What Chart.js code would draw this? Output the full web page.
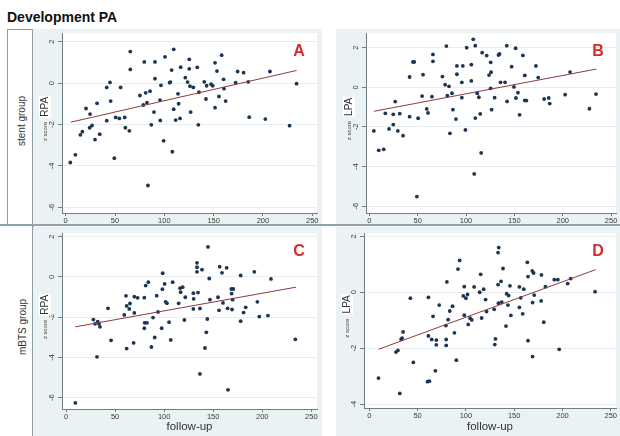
<!DOCTYPE html>
<html>
<head>
<meta charset="utf-8">
<script src="https://cdn.jsdelivr.net/npm/chart.js@4.4.1/dist/chart.umd.min.js"></script>
<style>
  html, body { margin: 0; padding: 0; background: #fff; }
  body { width: 620px; height: 436px; position: relative; overflow: hidden; font-family: "Liberation Sans", Arial, sans-serif; }
  #title { position: absolute; left: 7px; top: 9px; font-size: 14px; font-weight: bold; color: #111; }
  .rule { position: absolute; background: #8d9fa9; }
  .rowlab { position: absolute; font-size: 10px; color: #333; white-space: nowrap; transform: translate(-50%, -50%) rotate(-90deg); }
  canvas { position: absolute; background: #eaf2f3; }
</style>
</head>
<body>
<div id="title">Development PA</div>

<div class="rule" style="left:7px; top:29px; width:26px; height:1px;"></div>
<div class="rule" style="left:7px; top:29px; width:1px; height:196px;"></div>
<div class="rule" style="left:32px; top:29px; width:1.5px; height:407px;"></div>
<div class="rule" style="left:0; top:224px; width:620px; height:2px; background:#8ea3ae;"></div>

<div class="rowlab" style="left:21px; top:121px;">stent group</div>
<div class="rowlab" style="left:22px; top:327px;">mBTS group</div>

<script>
// follow-up (x) vs z score
const stentRPA = [[4.7,-3.84],[9.8,-3.47],[14.9,-2.5],[16.9,-2.35],[20.6,-1.23],[24.7,-1.5],[24.3,-2.16],[26.7,-2.05],[29.7,-2.73],[31.8,-0.98],[34.5,-2.47],[41.6,-0.21],[41.6,-1.82],[44.9,0.03],[45.6,-0.87],[49.3,-3.63],[50.7,-1.66],[54.4,-1.71],[55.7,-0.21],[59.8,-1.66],[60.5,-2.16],[64.5,-2.31],[65.5,1.52],[65.5,0.66],[75.3,-0.6],[78.7,-1.06],[79.7,1.02],[81.1,-0.47],[82.4,-0.95],[83.4,-4.95],[85.5,-0.39],[86.8,-2.02],[89.5,-1.4],[90.5,1.02],[90.5,0.21],[95.6,-0.82],[95.9,-1.81],[96.6,-0.11],[99.3,-2.79],[100.7,1.27],[105.4,0.02],[106.1,0.05],[107.4,0.63],[108.1,-3.32],[109.5,1.63],[109.5,-1.26],[111.5,-1.79],[113.9,-0.52],[114.5,-1.0],[115.9,-1.71],[116.6,0.77],[121.3,0.26],[123.6,0.05],[125.3,1.15],[125.3,0.69],[126.0,-0.15],[126.7,-1.4],[129.4,-0.21],[133.4,0.76],[134.5,-2.02],[135.1,-0.44],[140.5,0.06],[142.2,-0.77],[142.9,-0.13],[147.3,-0.05],[149.0,-0.13],[151.4,0.98],[151.4,-1.19],[153.4,0.58],[155.4,-0.65],[158.1,1.35],[160.1,0.18],[160.5,-0.27],[162.2,-0.87],[172.3,0.02],[174.3,0.56],[180.4,0.5],[185.1,0.06],[186.1,-1.65],[202.4,-1.74],[207.1,0.56],[227.0,-2.06],[234.1,-0.03]];
const stentLPA = [[4.7,-2.2],[9.8,-3.18],[14.9,-3.13],[16.6,-1.31],[20.4,-2.1],[24.8,-1.88],[24.8,-1.36],[26.8,-0.72],[29.5,-2.2],[31.5,-1.33],[34.9,-2.44],[41.7,0.52],[41.7,-1.48],[45.1,1.28],[46.5,1.28],[54.6,-0.44],[55.6,0.64],[49.2,-5.51],[50.5,-1.56],[59.4,-1.09],[60.7,-1.29],[64.8,-0.47],[65.8,1.66],[65.8,1.31],[75.6,0.54],[78.4,0.13],[79.7,2.08],[80.7,-0.42],[82.4,0.05],[83.4,-2.32],[85.5,-0.3],[86.5,-1.13],[89.6,-1.6],[90.6,1.08],[90.6,0.66],[95.7,-0.52],[95.7,0.25],[96.7,1.08],[99.4,-2.15],[100.7,2.0],[105.5,1.14],[105.5,0.32],[107.5,2.42],[108.5,-4.37],[109.6,2.1],[109.6,-1.55],[111.6,-0.3],[113.3,-0.5],[114.7,-1.34],[115.7,-3.31],[116.7,1.75],[121.4,1.6],[123.8,0.62],[125.5,1.26],[125.5,-0.05],[125.9,0.76],[126.5,-1.13],[129.6,-0.52],[133.6,1.63],[134.7,1.68],[135.7,0.25],[140.4,0.25],[142.1,2.1],[142.5,-0.71],[147.2,1.04],[149.6,0.02],[151.3,1.97],[151.6,-0.54],[153.7,-0.27],[155.4,-1.39],[158.8,1.61],[160.8,0.6],[160.8,-0.66],[162.5,-0.67],[172.3,1.08],[174.7,0.49],[180.8,-0.59],[185.5,-0.54],[186.6,-0.82],[202.5,-0.37],[207.6,0.77],[227.6,-1.08],[234.4,-0.34]];
const mbtsRPA = [[9.5,-6.26],[27.9,-2.12],[29.6,-2.33],[31.6,-3.97],[32.3,-2.22],[33.6,-2.33],[34.6,-2.48],[42.8,-1.56],[45.9,-3.15],[59.4,-1.89],[61.1,-0.94],[61.8,-1.44],[61.8,-3.56],[65.2,-1.32],[64.5,-1.59],[68.9,-3.28],[69.6,-0.98],[69.6,-1.79],[73.0,-1.04],[79.8,-1.03],[79.8,-2.55],[80.2,-2.28],[81.2,-0.43],[82.5,-2.28],[83.9,-0.26],[87.0,-3.48],[88.7,-2.02],[90.4,-3.01],[92.4,-0.93],[93.8,-1.74],[97.5,-2.55],[98.2,-0.61],[98.5,0.18],[100.5,-0.35],[101.6,-1.24],[102.9,-1.31],[105.0,-2.25],[106.7,-3.13],[108.7,-0.26],[114.8,-1.31],[116.2,-0.56],[116.8,-0.76],[118.9,-0.51],[120.6,-2.14],[121.6,-1.01],[129.8,-0.81],[130.1,-1.09],[129.8,-1.59],[133.5,0.7],[133.5,0.48],[133.5,0.25],[134.5,-0.78],[136.5,-1.57],[136.5,-4.82],[138.6,0.36],[141.6,-3.53],[143.0,-2.75],[144.0,-2.09],[144.7,1.49],[146.0,-0.08],[146.7,-1.13],[154.9,-1.01],[155.9,-1.66],[156.6,0.51],[159.0,0.2],[160.0,-1.29],[163.7,0.45],[164.7,-1.56],[165.1,-5.61],[168.5,-0.6],[168.8,-0.83],[169.2,-1.62],[169.8,-1.13],[170.5,-0.6],[178.0,0.07],[178.0,-2.2],[181.0,-1.77],[183.1,-1.51],[191.9,0.25],[195.0,-1.24],[197.0,-1.97],[205.8,-1.92],[208.9,-0.1],[233.7,-3.1]];
const mbtsLPA = [[9.5,-3.07],[27.6,-2.14],[29.6,-2.08],[31.6,-3.62],[33.0,-1.68],[34.0,-1.64],[35.0,-1.42],[42.5,-0.21],[45.6,-2.51],[61.2,-0.18],[61.2,-1.56],[60.2,-3.2],[62.2,-3.18],[64.6,-1.69],[66.0,-0.86],[68.4,-2.81],[69.4,-1.71],[69.4,-1.88],[72.4,-0.46],[79.3,-1.19],[79.6,-1.69],[79.6,-1.9],[80.3,0.37],[81.6,-0.98],[83.3,-0.67],[86.1,-0.5],[88.1,-1.45],[90.1,-2.43],[91.8,0.83],[93.5,1.14],[97.3,-0.13],[98.3,0.2],[98.3,-0.82],[100.0,-0.21],[101.7,-0.08],[102.4,-1.15],[104.4,-0.93],[106.1,-0.99],[108.5,0.19],[114.3,0.0],[115.3,0.64],[116.3,-0.92],[118.4,0.11],[120.4,-0.26],[121.4,-0.69],[129.3,-0.61],[129.9,-1.87],[130.6,-1.67],[133.3,0.27],[133.3,1.42],[134.0,1.6],[133.7,-0.39],[136.4,0.39],[137.1,-0.35],[138.4,0.85],[141.5,-1.21],[142.2,-0.05],[143.5,-0.46],[144.2,-0.12],[145.6,0.23],[146.6,-0.83],[155.4,0.19],[155.4,-0.54],[156.8,-0.2],[158.8,-0.77],[159.9,0.11],[163.6,1.07],[164.3,0.56],[164.3,-1.73],[168.7,0.76],[169.0,-0.37],[169.0,-2.3],[170.1,0.69],[170.7,-0.1],[178.2,0.62],[177.9,-0.31],[180.6,-1.07],[182.3,0.2],[191.5,0.45],[195.2,0.45],[196.6,-2.04],[205.4,0.31],[208.5,0.49],[233.7,0.02]];

// fitted lines (end points)
const stentRPAfit = [[5.1,-1.89],[234.1,0.61]];
const stentLPAfit = [[4.7,-1.21],[234.7,0.92]];
const mbtsRPAfit = [[9.5,-2.48],[234.4,-0.51]];
const mbtsLPAfit = [[9.5,-2.04],[234.4,0.81]];

const xTicks = [0, 50, 100, 150, 200, 250];
const yTicksWide = [-6, -4, -2, 0, 2];
const yTicksNarrow = [-4, -2, 0, 2];

Chart.defaults.font.family = '"Liberation Sans", Arial, sans-serif';

const stataDecor = {
  id: 'stataDecor',
  beforeDraw(chart) {
    const a = chart.chartArea;
    const ctx = chart.ctx;
    ctx.save();
    ctx.fillStyle = '#ffffff';
    ctx.fillRect(a.left, a.top, a.right - a.left, a.bottom - a.top);
    ctx.restore();
  },
  afterDraw(chart, args, opts) {
    const ctx = chart.ctx;
    const a = chart.chartArea;
    const y = chart.scales.y;
    ctx.save();
    // rotated y tick labels
    ctx.fillStyle = '#3a3a3a';
    ctx.font = '7.5px "Liberation Sans", Arial';
    ctx.textAlign = 'center';
    ctx.textBaseline = 'middle';
    y.ticks.forEach(t => {
      ctx.save();
      ctx.translate(a.left - 10, y.getPixelForValue(t.value));
      ctx.rotate(-Math.PI / 2);
      ctx.fillText(String(t.value), 0, 0);
      ctx.restore();
    });

    // y title: small "z score" + larger name
    const small = '6px "Liberation Sans", Arial';
    const big = '10px "Liberation Sans", Arial';
    ctx.font = small;
    const ws = ctx.measureText('z score').width;
    ctx.font = big;
    const wb = ctx.measureText(opts.yName).width;
    const gap = 5;
    const total = ws + gap + wb;
    const cy = (a.top + a.bottom) / 2 - 4;
    ctx.save();
    ctx.translate(a.left - 17, cy);
    ctx.rotate(-Math.PI / 2);
    ctx.textAlign = 'left';
    ctx.textBaseline = 'middle';
    let x0 = -total / 2;
    ctx.font = small;
    ctx.fillStyle = '#444';
    ctx.fillText('z score', x0, 0);
    ctx.fillStyle = '#ffffff';
    ctx.fillRect(x0 + ws + gap - 1, -6, wb + 2, 12);
    ctx.font = big;
    ctx.fillStyle = '#333';
    ctx.fillText(opts.yName, x0 + ws + gap, 0);
    ctx.restore();

    // panel letter
    ctx.fillStyle = '#d62a2c';
    ctx.font = 'bold 16px "Liberation Sans", Arial';
    ctx.textAlign = 'center';
    ctx.textBaseline = 'middle';
    ctx.fillText(opts.letter, a.right - 18, a.top + 19);
    ctx.restore();
  }
};

const panels = [
  { letter: 'A', yName: 'RPA', pts: stentRPA, fit: stentRPAfit, yTicks: yTicksWide,
    xMin: -3.75, xMax: 254.8, yMin: -6.28, yMax: 2.42,
    box: [33, 29, 289, 195], area: [62, 33, 317, 213], xTitle: false },
  { letter: 'B', yName: 'LPA', pts: stentLPA, fit: stentLPAfit, yTicks: yTicksWide,
    xMin: -3.4, xMax: 255.1, yMin: -6.34, yMax: 2.74,
    box: [336, 29, 284, 195], area: [366, 33, 620, 213], xTitle: false },
  { letter: 'C', yName: 'RPA', pts: mbtsRPA, fit: mbtsRPAfit, yTicks: yTicksWide,
    xMin: -4.1, xMax: 255.8, yMin: -6.56, yMax: 2.18,
    box: [33, 227, 289, 209], area: [62, 233, 317, 409], xTitle: true },
  { letter: 'D', yName: 'LPA', pts: mbtsLPA, fit: mbtsLPAfit, yTicks: yTicksNarrow,
    xMin: -5.5, xMax: 255.4, yMin: -4.14, yMax: 2.12,
    box: [336, 227, 284, 209], area: [364, 233, 620, 408], xTitle: true }
];

const axisColor = '#6f7c83';

panels.forEach(p => {
  const [bx, by, bw, bh] = p.box;
  const [al, at, ar, ab] = p.area;
  const canvas = document.createElement('canvas');
  canvas.width = bw;
  canvas.height = bh;
  canvas.style.left = bx + 'px';
  canvas.style.top = by + 'px';
  document.body.appendChild(canvas);

  const yWidth = al - bx;
  const xHeight = (by + bh) - ab;

  new Chart(canvas, {
    type: 'scatter',
    data: {
      datasets: [
        {
          type: 'line',
          data: p.fit.map(d => ({ x: d[0], y: d[1] })),
          borderColor: '#8e3a40',
          borderWidth: 1,
          pointRadius: 0,
          fill: false
        },
        {
          data: p.pts.map(d => ({ x: d[0], y: d[1] })),
          pointRadius: 1.9,
          pointBackgroundColor: '#1b3552',
          pointBorderWidth: 0
        }
      ]
    },
    options: {
      responsive: false,
      animation: false,
      devicePixelRatio: 1,
      layout: { padding: { top: at - by, right: (bx + bw) - ar, left: 0, bottom: 0 } },
      plugins: {
        legend: { display: false },
        tooltip: { enabled: false },
        stataDecor: { letter: p.letter, yName: p.yName }
      },
      scales: {
        x: {
          type: 'linear',
          min: p.xMin,
          max: p.xMax,
          afterBuildTicks: s => { s.ticks = xTicks.map(v => ({ value: v })); },
          afterFit: s => { s.height = xHeight; s.paddingLeft = 0; s.paddingRight = 0; },
          grid: { drawOnChartArea: false, drawTicks: true, tickLength: 3, tickColor: axisColor },
          border: { color: axisColor, width: 1 },
          ticks: { font: { size: 7.5 }, color: '#3a3a3a', padding: 0, maxRotation: 0, autoSkip: false, callback: v => String(v) },
          title: { display: p.xTitle, text: 'follow-up', font: { size: 11.5 }, color: '#333', padding: { top: 0, bottom: 2 } }
        },
        y: {
          type: 'linear',
          min: p.yMin,
          max: p.yMax,
          afterBuildTicks: s => { s.ticks = p.yTicks.map(v => ({ value: v })); },
          afterFit: s => { s.width = yWidth; s.paddingTop = 0; s.paddingBottom = 0; },
          grid: { color: '#e8eef0', tickColor: axisColor, tickLength: 4 },
          border: { color: axisColor, width: 1 },
          ticks: { color: 'rgba(0,0,0,0)', font: { size: 7.5 } }
        }
      }
    },
    plugins: [stataDecor]
  });
});
</script>
</body>
</html>
